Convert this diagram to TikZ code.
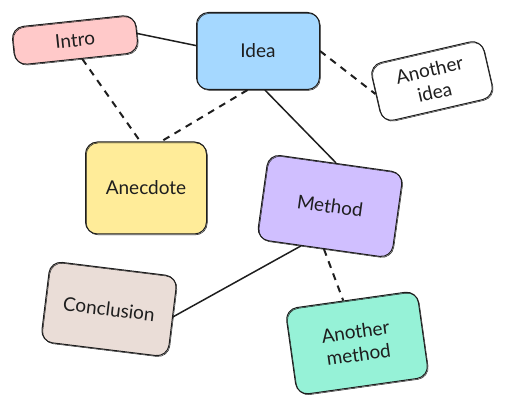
\documentclass[tikz,border=0pt]{standalone}
\usepackage{fontspec}
\setmainfont{Lato}
\usetikzlibrary{positioning}
\definecolor{InkColor}{HTML}{1E1E1E}
\definecolor{IntroColor}{HTML}{FFC9C9}
\definecolor{IdeaColor}{HTML}{A5D8FF}
\definecolor{AnecdoteColor}{HTML}{FFEC99}
\definecolor{MethodColor}{HTML}{D0BFFF}
\definecolor{OtherColor}{HTML}{96F2D7}
\definecolor{EndColor}{HTML}{EADDD7}
\tikzset{
  card/.style={draw=InkColor, line width=1pt, rounded corners=12pt, inner sep=0pt,
    align=center, text=InkColor, font=\fontsize{19}{23}\selectfont,
    postaction={draw=InkColor, line width=0.5pt, transform canvas={shift={(0.8pt,-0.9pt)}}}},
  link/.style={draw=InkColor, line width=1.5pt},
  dashlink/.style={draw=InkColor, line width=2pt, dash pattern=on 7pt off 6pt}
}

\begin{document}
\begin{tikzpicture}[x=1pt,y=-1pt]
				\useasboundingbox (0,0) rectangle (507,411);
				\node[card,fill=IntroColor,minimum width=124,minimum height=38,rotate=6](intro) at (75,40) {Intro};
				\node[card,fill=IdeaColor,minimum width=123,minimum height=77](idea) at (258,51) {Idea};
				\node[card,fill=white,minimum width=115,minimum height=59,rotate=13](other) at (432,81) {Another\\idea};
				\node[card,fill=AnecdoteColor,minimum width=121,minimum height=92](anecdote) at (146,188) {Anecdote};
				\node[card,fill=MethodColor,minimum width=136,minimum height=86,rotate=-8](method) at (330,206) {Method};
				\node[card,fill=EndColor,minimum width=128,minimum height=81,rotate=-7](end) at (109,309) {Conclusion};
				\node[card,fill=OtherColor,minimum width=133,minimum height=87,rotate=8](othermethod) at (357,343) {Another\\method};

				\draw[link] (intro.east) to (idea.175);
				\draw[dashlink] (intro.-75) to (anecdote.97);
				\draw[dashlink] (idea.-105) to (anecdote.72);
				\draw[dashlink] (idea.east) to (other.west);
				\draw[link] (idea.-80) to (method.north);
				\draw[link] (method.-118) to (end.east);
				\draw[dashlink] (method.south) to (othermethod.100);

			\end{tikzpicture}
\end{document}
